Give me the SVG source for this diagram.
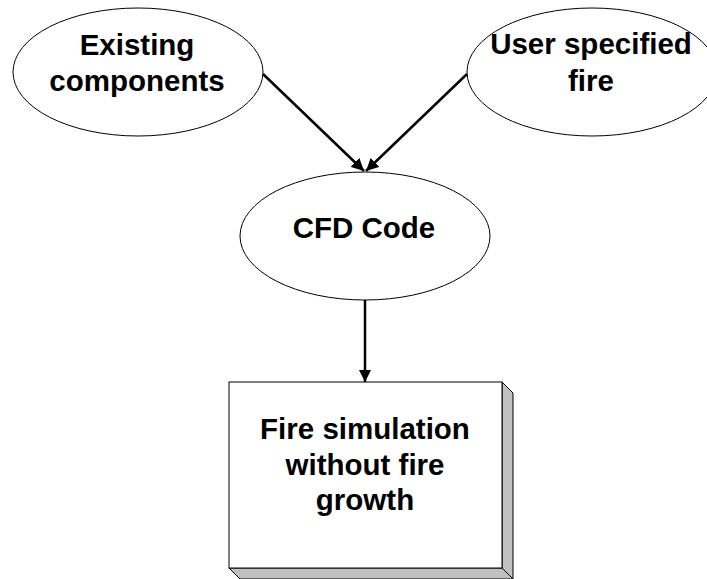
<svg xmlns="http://www.w3.org/2000/svg" width="707" height="579" viewBox="0 0 707 579">
  <style>
    .node { fill: #ffffff; stroke: #000000; stroke-width: 1; }
    .side { fill: #c0c0c0; stroke: #000000; stroke-width: 1; }
    .label { font-family: "Liberation Sans", Arial, sans-serif; font-weight: bold; font-size: 29.5px; fill: #000000; text-anchor: middle; }
    .edge { stroke: #000000; stroke-width: 2.5; fill: none; marker-end: url(#arrow); }
  </style>
  <defs>
    <marker id="arrow" viewBox="0 0 10 10" refX="10" refY="5" markerWidth="5" markerHeight="5" markerUnits="strokeWidth" orient="auto">
      <path d="M0,0 L10,5 L0,10 z" fill="#000000"/>
    </marker>
  </defs>
  <rect width="707" height="579" fill="#ffffff"/>

  <g id="connectors">
    <line class="edge" x1="263" y1="74" x2="364" y2="171"/>
    <line class="edge" x1="467" y1="74" x2="366" y2="171"/>
    <line class="edge" x1="365" y1="300" x2="365" y2="382"/>
  </g>

  <g id="existing-components">
    <ellipse class="node" cx="138" cy="72" rx="125" ry="64"/>
    <text class="label" x="137" y="55">Existing</text>
    <text class="label" x="137" y="91">components</text>
  </g>

  <g id="user-specified-fire">
    <ellipse class="node" cx="592" cy="72" rx="125" ry="64"/>
    <text class="label" x="591" y="54">User specified</text>
    <text class="label" x="591" y="91">fire</text>
  </g>

  <g id="cfd-code">
    <ellipse class="node" cx="365" cy="236" rx="125" ry="64"/>
    <text class="label" x="364" y="238">CFD Code</text>
  </g>

  <g id="fire-simulation">
    <!-- raised-box bevel: right face and bottom face -->
    <polygon class="side" points="502,382 513,393 513,579 502,568"/>
    <polygon class="side" points="229,568 240,579 513,579 502,568"/>
    <rect class="node" x="229" y="382" width="273" height="186"/>
    <text class="label" x="365" y="439">Fire simulation</text>
    <text class="label" x="365" y="475">without fire</text>
    <text class="label" x="365" y="510">growth</text>
  </g>
</svg>
